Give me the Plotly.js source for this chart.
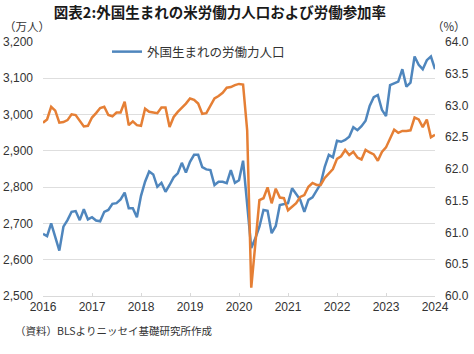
<!DOCTYPE html>
<html><head><meta charset="utf-8">
<script src="https://cdn.plot.ly/plotly-3.0.1.min.js"></script>
<style>html,body{margin:0;padding:0;background:#fff}#c{width:474px;height:354px}</style>
</head><body><div id="c"></div>
<script>
// Months Jan 2016 .. Jan 2024
const startYear = 2016, nMonths = 97;
const months = [];
for (let i = 0; i < nMonths; i++) {
  const y = startYear + Math.floor(i / 12), m = (i % 12) + 1;
  months.push(y + '-' + (m < 10 ? '0' + m : m));
}
// Foreign-born labor force (10,000 persons), left axis
const foreignBornLF = [
  2671, 2665, 2700, 2665, 2625, 2691, 2709, 2732, 2734, 2709, 2739, 2711,
  2717, 2708, 2706, 2732, 2737, 2754, 2756, 2766, 2785, 2742, 2742, 2717,
  2776, 2815, 2843, 2835, 2801, 2812, 2787, 2806, 2827, 2838, 2867, 2840,
  2870, 2889, 2889, 2855, 2849, 2847, 2806, 2815, 2815, 2811, 2847, 2812,
  2819, 2873, 2755, 2632, 2659, 2691, 2737, 2735, 2673, 2693, 2751, 2754,
  2756, 2797, 2781, 2765, 2732, 2765, 2772, 2790, 2809, 2856, 2889, 2882,
  2928, 2925, 2930, 2939, 2965, 2957, 2968, 2983, 3024, 3048, 3054, 3013,
  2996, 3081, 3086, 3091, 3125, 3077, 3088, 3160, 3137, 3125, 3150, 3160,
  3125
];
// Labor force participation rate (%), right axis
const participationRate = [
  62.73, 62.78, 62.98, 62.92, 62.73, 62.74, 62.77, 62.86, 62.85, 62.75, 62.67, 62.68,
  62.81, 62.88, 62.96, 62.98, 62.85, 62.83, 62.89, 62.89, 63.06, 62.69, 62.75, 62.69,
  62.68, 62.95, 62.90, 62.89, 62.88, 62.97, 62.97, 62.66, 62.82, 62.90, 62.96, 63.03,
  63.11, 63.09, 63.03, 62.87, 62.88, 63.00, 63.11, 63.15, 63.20, 63.28, 63.29, 63.32,
  63.34, 63.33, 62.61, 60.13, 60.83, 61.51, 61.54, 61.71, 61.46, 61.69, 61.55, 61.54,
  61.35, 61.40, 61.46, 61.56, 61.59, 61.72, 61.78, 61.75, 61.75, 61.86, 61.93, 62.00,
  62.16, 62.20, 62.30, 62.22, 62.27, 62.18, 62.15, 62.30, 62.26, 62.23, 62.13, 62.27,
  62.34, 62.48, 62.62, 62.57, 62.60, 62.60, 62.61, 62.81, 62.78, 62.66, 62.78, 62.50,
  62.54
];
const yearTickVals = ['2016-01','2017-01','2018-01','2019-01','2020-01','2021-01','2022-01','2023-01','2024-01'];
const yearTickText = ['2016','2017','2018','2019','2020','2021','2022','2023','2024'];

const numFont = 'Liberation Sans, Arial, Noto Sans CJK JP, sans-serif';
const jpFont = 'Noto Sans CJK JP, sans-serif';

const traces = [
  {x: months, y: participationRate, yaxis: 'y2', type: 'scatter', mode: 'lines',
   line: {color: '#e57f35', width: 2.5}, showlegend: false, name: '労働参加率'},
  {x: months, y: foreignBornLF, type: 'scatter', mode: 'lines',
   line: {color: '#4f86bd', width: 2.5}, name: '外国生まれの労働力人口'}
];
const layout = {
  width: 474, height: 354,
  margin: {l: 43, r: 39, t: 42, b: 58},
  paper_bgcolor: '#fff', plot_bgcolor: '#fff',
  title: {text: '<b>図表2:外国生まれの米労働力人口および労働参加率</b>',
          font: {family: jpFont, size: 14.5, color: '#1a1a1a'},
          x: 220/474, xref: 'container', xanchor: 'center', y: 1 - 13/354, yref: 'container', yanchor: 'middle'},
  xaxis: {type: 'category', range: [0, 96], tickvals: yearTickVals, ticktext: yearTickText,
          showgrid: false, showline: true, linecolor: '#d9d9d9', linewidth: 1,
          ticks: 'inside', ticklen: 3, tickcolor: '#d9d9d9',
          tickfont: {family: numFont, size: 12, color: '#333'}, fixedrange: true},
  yaxis: {range: [2500, 3200], dtick: 100, tickformat: ',d', showgrid: true, gridcolor: '#dedede',
          zeroline: false, showline: false, ticks: '', ticklabelstandoff: 9,
          tickfont: {family: numFont, size: 12, color: '#333'}},
  yaxis2: {range: [60, 64], dtick: 0.5, tickformat: '.1f', overlaying: 'y', side: 'right',
          showgrid: false, zeroline: false, showline: false, ticks: '', ticklabelstandoff: 9,
          tickfont: {family: numFont, size: 12, color: '#333'}},
  legend: {x: (107-43)/392, xanchor: 'left', y: (296-52)/254, yanchor: 'middle',
           bgcolor: 'rgba(0,0,0,0)', font: {family: jpFont, size: 12.5, color: '#333'}},
  annotations: [
    {text: '（万人）', xref: 'paper', yref: 'paper', x: (27-43)/392, y: (296-26)/254,
     xanchor: 'center', yanchor: 'middle', showarrow: false, font: {family: jpFont, size: 11.5, color: '#333'}},
    {text: '（%）', xref: 'paper', yref: 'paper', x: (449-43)/392, y: (296-26)/254,
     xanchor: 'center', yanchor: 'middle', showarrow: false, font: {family: jpFont, size: 11.5, color: '#333'}},
    {text: '（資料）BLSよりニッセイ基礎研究所作成', xref: 'paper', yref: 'paper', x: (13-43)/392, y: (296-330)/254,
     xanchor: 'left', yanchor: 'middle', showarrow: false, font: {family: jpFont, size: 10.5, color: '#333'}}
  ]
};
Plotly.newPlot('c', traces, layout, {displayModeBar: false, staticPlot: true});
</script></body></html>
